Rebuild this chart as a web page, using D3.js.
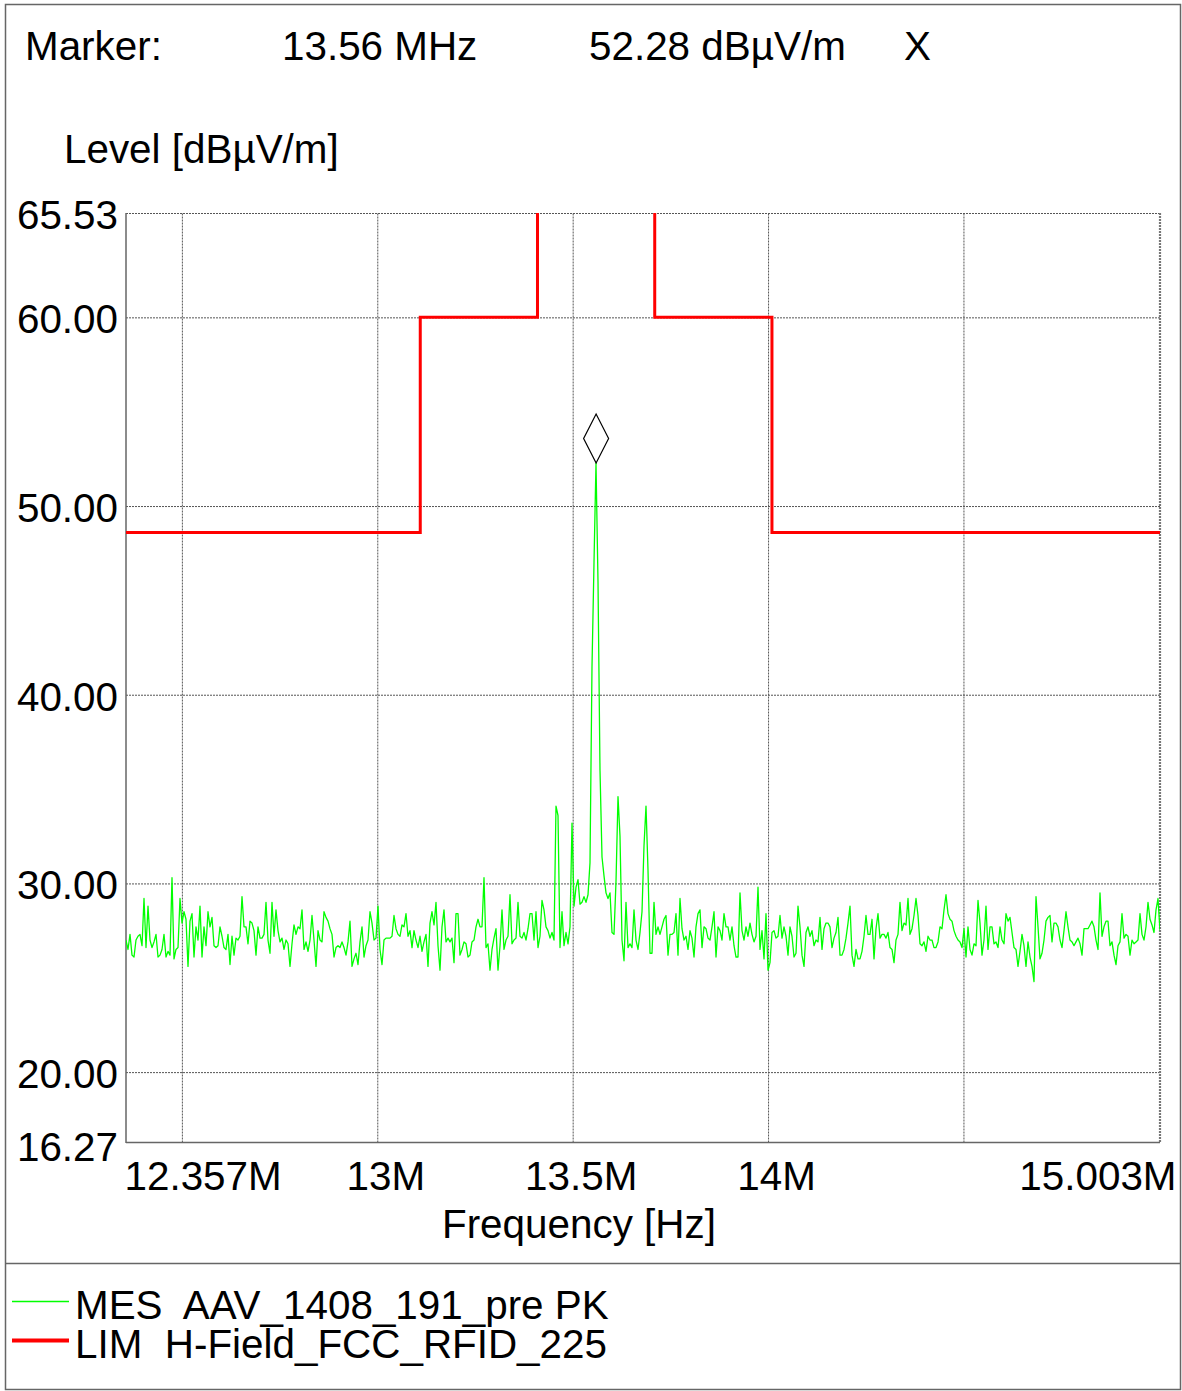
<!DOCTYPE html>
<html><head><meta charset="utf-8">
<script src="https://cdn.jsdelivr.net/npm/d3@7"></script>
<style>
body{margin:0;background:#fff}
svg{display:block}
text{font-family:"Liberation Sans",Arial,sans-serif;font-size:40.4px;fill:#000;white-space:pre}
</style>
</head><body>
<svg id="c" width="1182" height="1391"></svg>
<script>
// ---- data ----
const freqStart = 12.357, freqStop = 15.003; // MHz sweep
const levelsA = [27.0,26.5,27.3,26.2,26.1,27.0,27.2,27.3,26.7,29.2,
26.6,28.8,27.0,26.6,26.9,27.3,26.1,26.2,26.5,27.3,
26.1,26.4,26.2,30.3,26.0,26.5,26.6,29.2,27.9,28.5,
28.1,25.6,28.0,28.4,26.1,27.7,27.0,28.8,26.1,27.7,
26.7,28.5,27.7,28.2,26.7,26.6,26.7,27.7,27.2,26.6,
26.5,27.3,25.7,27.2,26.2,27.1,27.0,27.2,29.3,27.7,
27.7,26.8,28.0,27.9,27.5,26.2,27.7,27.1,27.1,27.3,
29.0,27.0,26.3,29.0,27.2,28.6,27.5,26.9,27.1,26.5,
27.0,26.8,25.6,26.8,27.8,27.3,27.7,27.6,28.6,26.5,
26.9,26.4,27.0,28.3,27.0,25.6,27.5,27.0,26.9,28.5,
28.2,28.0,27.6,27.3,26.1,26.6,26.7,26.6,26.9,26.6,
26.2,26.9,28.0,25.6,26.0,26.3,25.7,26.9,27.7,26.1,
26.7,27.0,28.5,27.9,27.0,27.1,28.8,26.5,25.7];
const levelsB = [27.0,27.1,27.1,27.1,27.2,28.3,27.6,27.3,27.2,27.8,
27.7,28.4,27.2,27.5,26.6,27.5,27.0,26.6,27.2,26.4,
26.9,27.3,25.6,27.9,28.5,27.8,29.0,26.7,25.4,27.7,
28.6,26.9,27.1,26.9,27.1,25.8,28.4,28.4,26.2,26.5,
26.9,26.8,26.1,26.2,26.9,27.0,27.7,28.1,27.7,27.7,
30.3,26.6,26.8,25.4,26.5,27.1,27.6,25.4,26.7,28.6,
26.5,27.0,27.2,29.4,26.8,27.0,27.1,29.0,27.2,27.1,
27.4,27.0,27.6,28.4,28.4,27.0,28.5,26.6,27.2,29.1,
28.6,27.7,27.5,27.1,27.4,27.0];
const levelsCenter = [34.1,33.6,26.6,28.5,26.7,27.4,26.8,27.7,33.2,28.8,
29.8,30.2,28.9,29.0,29.3,29.0,29.4,31.1,41.5,47.0,
52.28,46.0,36.0,31.4,30.4,29.5,29.2,29.5,27.4,27.3,
30.1,34.6,32.5,27.0,25.9,29.0,26.6,26.8,26.6,28.6,
27.0,26.5,27.4,28.5,32.0,34.1,30.7,26.3,26.3,29.0,
27.3,27.7,27.3,27.7,28.1,28.3,26.2,27.3,27.3,27.4,
28.4,26.2,29.2];
const levelsC = [27.6,27.0,27.2,26.5,27.5,27.1,26.1,27.7,28.4,28.6,
26.6,27.7,27.6,27.1,27.0,27.7,28.5,26.1,27.7,27.5,
27.0,28.4,27.7,27.7,27.0,27.7,26.7,26.1,26.1,29.5,
27.5,27.0,27.7,27.2,27.9,27.3,26.9,27.2,29.8,26.5,
27.5,26.0,28.4,25.4,25.8,27.4,27.5,27.1,27.2,28.3,
27.1,27.7,27.2,26.2,27.7,27.2,26.1,26.3,28.8,27.7,
26.2,25.6,27.4,27.7,27.2,27.5,26.7,27.0,26.9,28.2,
26.5,27.6,27.9,27.9,27.7,26.6,27.1,27.4,28.2,26.2,
26.2,26.5,27.1,27.9,28.8,26.2,25.6,26.5,26.0,26.0,
26.4,27.2,28.3,27.3,27.3,28.1,26.0,27.6,28.4,27.1,
27.3,27.3,27.1,27.4,26.6,26.5,25.8];
const levelsD = [27.0,27.3,29.0,27.5,27.9,27.8,29.2,27.3,27.6,28.3,
29.2,28.3,26.8,26.7,26.9,26.4,27.2,27.0,27.0,26.6,
26.6,26.9,27.7,27.6,28.6,29.4,28.4,28.1,28.0,27.5,
27.2,27.0,26.9,26.6,27.6,26.1,27.7,26.5,26.2,26.8,
26.7,29.1,27.9,26.2,27.0,28.8,26.5,27.7,27.7,26.8,
26.9,26.6,27.7,27.0,26.8,28.4,28.0,28.2,27.4,26.6,
26.5,25.6,26.4,27.3,26.7,25.6,26.9,26.1,25.6,24.8,
29.3,27.7,26.0,26.3,27.0,28.0,28.2,28.3,26.9,27.9,
27.9,27.7,27.0,26.6,27.5,28.5,27.7,27.0,26.9,26.7,
26.9,27.1,26.8,26.2,27.6,27.6,27.6,27.8,28.0,27.7,
27.0,26.5,29.5,27.2,27.7,28.0,28.0,26.7,26.9,26.2,
25.7,26.7,26.9,28.4,27.1,27.3,27.2,26.2,27.0,26.8,
26.9,27.0,28.4,27.3,27.0,27.7,29.0,28.1,27.8,27.4,
28.6,29.2,27.5];
const measLevels = [...levelsA, ...levelsB, ...levelsCenter, ...levelsC, ...levelsD];

const limitFreqs  = [12.357, 13.110, 13.410, 13.710, 14.010, 15.003];
const limitLevels = [48.6,   60.0,   84.0,   60.0,   48.6,   48.6];

const yTicks = [16.27, 20, 30, 40, 50, 60, 65.53];
const yGrid = [20, 30, 40, 50, 60, 65.53];
const xGrid = [12.5, 13, 13.5, 14, 14.5];
const xTicks = [12.357, 13, 13.5, 14, 15.003];
const xTickLabels = ["12.357M", "13M", "13.5M", "14M", "15.003M"];

const markerFreq = 13.56, markerLevel = 52.28;
const headerTexts = ["Marker:", "13.56 MHz", "52.28 dBµV/m", "X"];
const legendNames = ["MES  AAV_1408_191_pre PK", "LIM  H-Field_FCC_RFID_225"];
const legendColors = ["#00ff00", "#ff0000"];

// ---- layout ----
const L = 126, R = 1160, T = 213, B = 1142.5;
const svg = d3.select("#c");
const x = d3.scaleLinear().domain([freqStart, freqStop]).range([L, R]);
const y = d3.scaleLinear().domain([16.27, 65.53]).range([B, T]);
const gridColor = "#555";

// outer frame
svg.append("rect").attr("x", 5.5).attr("y", 4.5).attr("width", 1175).attr("height", 1385)
  .attr("fill", "none").attr("stroke", "#666").attr("stroke-width", 1.5);
svg.append("line").attr("x1", 5).attr("x2", 1181).attr("y1", 1263.5).attr("y2", 1263.5)
  .attr("stroke", "#666").attr("stroke-width", 1.5);

// header
const hx = [25, 282, 589, 904];
svg.selectAll("text.hdr").data(headerTexts).join("text").attr("class", "hdr")
  .attr("x", (d, i) => hx[i]).attr("y", 60).text(d => d);
svg.append("text").attr("x", 64).attr("y", 163).text("Level [dBµV/m]");

// grid
const gx = svg.append("g").attr("transform", `translate(0,${B})`)
  .call(d3.axisBottom(x).tickValues(xGrid).tickSize(-(B - T)).tickFormat(""));
gx.select(".domain").remove();
gx.selectAll("line").attr("stroke", gridColor).attr("stroke-dasharray", "2,1").attr("stroke-width", 1);

const gy = svg.append("g").attr("transform", `translate(${L},0)`)
  .call(d3.axisLeft(y).tickValues(yGrid).tickSize(-(R - L)).tickFormat(""));
gy.select(".domain").remove();
gy.selectAll("line").attr("stroke", gridColor).attr("stroke-dasharray", "2,1").attr("stroke-width", 1);

// right border (dashed, heavier)
svg.append("line").attr("x1", R).attr("x2", R).attr("y1", T).attr("y2", B)
  .attr("stroke", "#777").attr("stroke-width", 2.2).attr("stroke-dasharray", "2,1");
// left & bottom axis lines
svg.append("line").attr("x1", L).attr("x2", L).attr("y1", T).attr("y2", B + 0.5)
  .attr("stroke", "#666").attr("stroke-width", 1.5);
svg.append("line").attr("x1", L).attr("x2", R).attr("y1", B).attr("y2", B)
  .attr("stroke", "#666").attr("stroke-width", 1.5);

// y labels
const ay = svg.append("g").attr("transform", `translate(${L},0)`)
  .call(d3.axisLeft(y).tickValues(yTicks).tickSize(0).tickPadding(8).tickFormat(d3.format(".2f")));
ay.select(".domain").remove();
ay.selectAll("text").attr("font-size", null).attr("font-family", null)
  .attr("dy", d => d === 16.27 ? "0.44em" : "0.38em");

// x labels
const ax = svg.append("g").attr("transform", `translate(0,${B})`)
  .call(d3.axisBottom(x).tickValues(xTicks).tickSize(0).tickPadding(19)
    .tickFormat((d, i) => xTickLabels[i]));
ax.select(".domain").remove();
ax.selectAll("text").attr("font-size", null).attr("font-family", null)
  .attr("text-anchor", (d, i) => i === 0 ? "start" : (i === xTicks.length - 1 ? "end" : "middle"))
  .attr("dx", (d, i) => i === 0 ? -2 : (i === xTicks.length - 1 ? 16 : 8));
svg.append("text").attr("x", 442).attr("y", 1238).text("Frequency [Hz]");

// clip
svg.append("clipPath").attr("id", "plotClip").append("rect")
  .attr("x", L).attr("y", T).attr("width", R - L).attr("height", B - T);

// measurement trace
const N = measLevels.length;
const meas = measLevels.map((v, i) => [freqStart + i * (freqStop - freqStart) / (N - 1), v]);
svg.append("path").datum(meas).attr("clip-path", "url(#plotClip)")
  .attr("fill", "none").attr("stroke", "#00ff00").attr("stroke-width", 1.3)
  .attr("stroke-linejoin", "round")
  .attr("d", d3.line().x(d => x(d[0])).y(d => y(d[1])));

// limit line
const lim = limitFreqs.map((f, i) => [f, limitLevels[i]]);
svg.append("path").datum(lim).attr("clip-path", "url(#plotClip)")
  .attr("fill", "none").attr("stroke", "#ff0000").attr("stroke-width", 3)
  .attr("d", d3.line().curve(d3.curveStepAfter).x(d => x(d[0])).y(d => y(d[1])));

// marker diamond (bottom vertex on the marker point)
const mx = x(markerFreq), my = y(markerLevel);
svg.append("path").attr("fill", "none").attr("stroke", "#000").attr("stroke-width", 1.2)
  .attr("d", `M${mx},${my} L${mx - 12.5},${my - 24.5} L${mx},${my - 49} L${mx + 12.5},${my - 24.5} Z`);

// legend
const lg = svg.selectAll("g.leg").data(legendNames).join("g").attr("class", "leg")
  .attr("transform", (d, i) => `translate(0,${1319 + i * 39})`);
lg.append("line").attr("x1", 12).attr("x2", 69).attr("y1", -17.5).attr("y2", -17.5)
  .attr("stroke", (d, i) => legendColors[i]).attr("stroke-width", (d, i) => i === 0 ? 1.3 : 4);
lg.append("text").attr("x", 75).attr("y", 0).text(d => d);
</script>
</body></html>
